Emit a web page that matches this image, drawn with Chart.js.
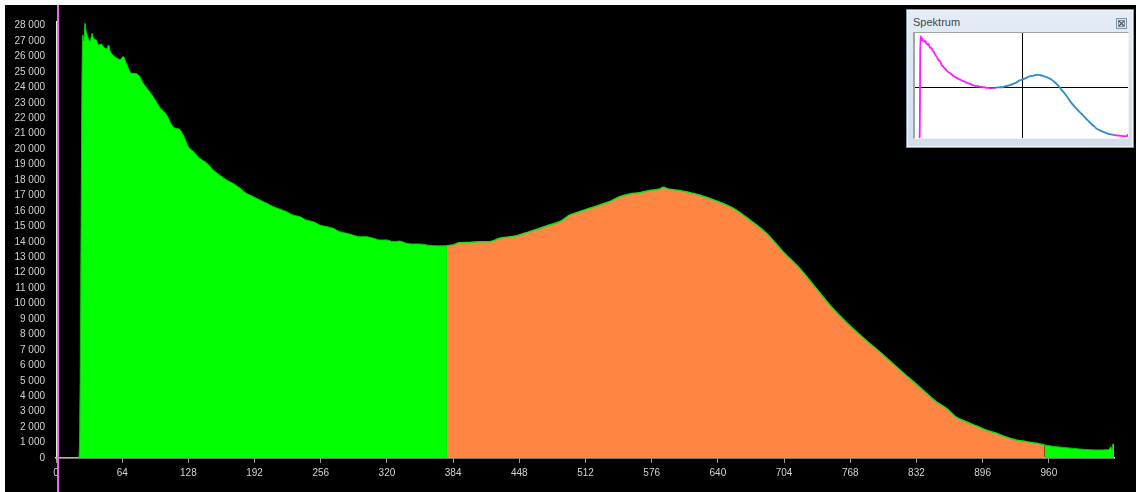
<!DOCTYPE html>
<html>
<head>
<meta charset="utf-8">
<title>Spektrum</title>
<script src="https://cdn.jsdelivr.net/npm/chart.js@4.4.1/dist/chart.umd.min.js"></script>
<style>
  html, body { margin: 0; padding: 0; background: #fff; width: 1136px; height: 492px; overflow: hidden; }
  #main { position: absolute; left: 5px; top: 5px; width: 1131px; height: 487px; background: #000; }
  #win {
    position: absolute; left: 906px; top: 9px; width: 228px; height: 139px; box-sizing: border-box;
    border: 1px solid #8493a8; background: linear-gradient(#e4ecf6, #d2deeb);
    box-shadow: inset 0 0 0 1px #f2f6fb;
  }
  #winTitle {
    position: absolute; left: 6px; top: 6px; font: 11px "Liberation Sans", Arial, sans-serif; color: #474747;
  }
  #winClose { position: absolute; left: 209px; top: 8px; width: 11px; height: 11px; }
  #panel {
    position: absolute; left: 6px; top: 22px; width: 216px; height: 107px; box-sizing: border-box;
    background: #fff; border-left: 2px solid #a4a4a4; border-top: 1px solid #a4a4a4;
    border-right: 1px solid #f4f4f4; border-bottom: 1px solid #f4f4f4;
  }
  #panel canvas { position: absolute; left: 0; top: 0; }
</style>
</head>
<body>
<div id="main"><canvas id="spec" width="1131" height="487"></canvas></div>
<div id="win">
  <div id="winTitle">Spektrum</div>
  <svg id="winClose" viewBox="0 0 11 11">
    <rect x="0.5" y="0.5" width="10" height="10" fill="#e2e8f0" stroke="#8291a6"/>
    <rect x="2.5" y="2.5" width="6" height="6" fill="none" stroke="#6a7688" stroke-width="0.8"/>
    <path d="M3 3 L8 8 M8 3 L3 8" stroke="#4c5566" stroke-width="1.1"/>
  </svg>
  <div id="panel"><canvas id="mini" width="213" height="105"></canvas></div>
</div>
<script>
// Channel numbers and counts of the measured spectrum
const channels = [0, 22, 23, 24, 25, 26, 27, 28, 29, 31, 33, 35, 36, 39, 41, 44, 46, 49, 51, 52, 55, 59, 62, 65, 68,
  73, 77, 81, 84, 88, 94, 100, 107, 113, 120, 123, 128, 133, 139, 146, 152, 158, 165, 171, 178, 184, 191, 197,
  204, 210, 216, 223, 229, 236, 242, 249, 255, 262, 268, 274, 281, 287, 294, 300, 307, 313, 320, 326, 332, 339,
  345, 352, 358, 365, 371, 378, 384, 390, 400, 410, 419, 429, 439, 448, 458, 468, 477, 487, 497, 506, 516, 526,
  535, 545, 555, 564, 574, 584, 587, 593, 603, 612, 622, 638, 655, 671, 687, 703, 719, 735, 751, 767, 783, 800,
  816, 835, 851, 861, 870, 880, 890, 899, 909, 919, 928, 938, 948, 956, 967, 977, 990, 1006, 1018, 1020, 1021,
  1022, 1023];
const counts = [0, 0, 2200, 11300, 23500, 27400, 27000, 28150, 27700, 27200, 27000, 27500, 27200, 27070, 26750,
  26800, 26640, 26500, 26750, 26420, 26100, 25890, 25800, 26000, 25560, 24910, 24900, 24700, 24300, 23940, 23400,
  22750, 22210, 21460, 21240, 20920, 20160, 19840, 19410, 19090, 18650, 18330, 18000, 17790, 17470, 17140, 16920,
  16710, 16490, 16280, 16130, 15950, 15740, 15630, 15410, 15300, 15090, 14980, 14880, 14660, 14550, 14440, 14330,
  14330, 14230, 14120, 14120, 14010, 14050, 13900, 13860, 13860, 13800, 13750, 13740, 13750, 13800, 13940, 13960,
  14010, 14010, 14230, 14330, 14440, 14660, 14880, 15090, 15300, 15740, 15950, 16170, 16390, 16600, 16920, 17100,
  17180, 17330, 17420, 17530, 17400, 17330, 17200, 17030, 16660, 16170, 15410, 14550, 13360, 12290, 10990, 9700,
  8610, 7640, 6670, 5700, 4600, 3650, 3220, 2670, 2350, 2070, 1810, 1600, 1340, 1170, 1060, 950, 840, 730, 670,
  580, 520, 540, 730, 560, 900, 900];

// Region of interest (first and last channel)
const roi = [378, 956];
// Cursor channel and crosshair of the overview
const cursorChannel = 1.5;
const crossX = 512;
const crossY = 14000;

// Axis tick values
const xTicks = [0, 64, 128, 192, 256, 320, 384, 448, 512, 576, 640, 704, 768, 832, 896, 960];
const yTicks = [0, 1000, 2000, 3000, 4000, 5000, 6000, 7000, 8000, 9000, 10000, 11000, 12000, 13000, 14000,
  15000, 16000, 17000, 18000, 19000, 20000, 21000, 22000, 23000, 24000, 25000, 26000, 27000, 28000];

const points = channels.map((c, i) => ({ x: c, y: counts[i] }));
const before = points.filter(p => p.x <= roi[0]);
const inside = points.filter(p => p.x >= roi[0] && p.x <= roi[1]);
const after = points.filter(p => p.x >= roi[1]);

const fmt = v => String(v).replace(/\B(?=(\d{3})+(?!\d))/g, ' ');
const tickFont = { family: '"Liberation Sans", Arial, sans-serif', size: 10 };

const cursorPlugin = {
  id: 'cursor',
  afterDraw(chart) {
    const ctx = chart.ctx;
    const px = chart.scales.x.getPixelForValue(cursorChannel);
    ctx.save();
    ctx.fillStyle = '#e86ce8';
    ctx.fillRect(Math.round(px) - 1, 0, 2, chart.height);
    ctx.restore();
  }
};

new Chart(document.getElementById('spec'), {
  type: 'line',
  data: {
    datasets: [
      { data: before, fill: 'origin', backgroundColor: '#00ff00', borderColor: '#00cc00', borderWidth: 1 },
      { data: inside, fill: 'origin', backgroundColor: '#ff8544', borderColor: '#18e018', borderWidth: 1.5 },
      { data: after, fill: 'origin', backgroundColor: '#00ff00', borderColor: '#00cc00', borderWidth: 1 }
    ]
  },
  options: {
    responsive: false,
    animation: false,
    devicePixelRatio: 1,
    layout: { padding: { top: 16, right: 22, left: 0, bottom: 0 } },
    elements: { point: { radius: 0 }, line: { cubicInterpolationMode: 'monotone' } },
    plugins: { legend: { display: false }, tooltip: { enabled: false } },
    scales: {
      x: {
        type: 'linear', min: 0, max: 1023,
        afterBuildTicks: s => { s.ticks = xTicks.map(v => ({ value: v })); },
        afterFit: s => { s.height = 34; },
        ticks: { color: '#d2d2d2', font: tickFont, padding: 4, maxRotation: 0, autoSkip: false, callback: v => String(v) },
        grid: { display: true, drawOnChartArea: false, drawTicks: true, tickLength: 5, color: '#9a9a9a' },
        border: { display: true, color: '#e8e8e8', width: 1.5 }
      },
      y: {
        type: 'linear', min: 0, max: 28300,
        afterBuildTicks: s => { s.ticks = yTicks.map(v => ({ value: v })); },
        afterFit: s => { s.width = 51; },
        ticks: { color: '#d2d2d2', font: tickFont, padding: 3, autoSkip: false, callback: fmt },
        grid: { display: false },
        border: { display: true, color: '#e8e8e8', width: 1 }
      }
    }
  },
  plugins: [cursorPlugin]
});

// Overview window
const crossPlugin = {
  id: 'cross',
  beforeDatasetsDraw(chart) {
    const { ctx, chartArea: a } = chart;
    const px = Math.round(chart.scales.x.getPixelForValue(crossX)) + 0.5;
    const py = Math.round(chart.scales.y.getPixelForValue(crossY)) + 0.5;
    ctx.save();
    ctx.strokeStyle = '#000';
    ctx.lineWidth = 1;
    ctx.beginPath();
    ctx.moveTo(px, a.top); ctx.lineTo(px, a.bottom);
    ctx.moveTo(a.left, py); ctx.lineTo(a.right, py);
    ctx.stroke();
    ctx.restore();
  }
};

new Chart(document.getElementById('mini'), {
  type: 'line',
  data: {
    datasets: [
      { data: before.filter(p => p.x >= 22), borderColor: '#ff1aff', borderWidth: 1.8, fill: false },
      { data: inside, borderColor: '#2a8ccc', borderWidth: 1.8, fill: false },
      { data: after, borderColor: '#ff1aff', borderWidth: 1.8, fill: false }
    ]
  },
  options: {
    responsive: false,
    animation: false,
    devicePixelRatio: 1,
    layout: { padding: 0 },
    elements: { point: { radius: 0 }, line: { cubicInterpolationMode: 'monotone' } },
    plugins: { legend: { display: false }, tooltip: { enabled: false } },
    scales: {
      x: { type: 'linear', min: 0, max: 1023, display: false },
      y: { type: 'linear', min: 0, max: 29000, display: false }
    }
  },
  plugins: [crossPlugin]
});
</script>
</body>
</html>
